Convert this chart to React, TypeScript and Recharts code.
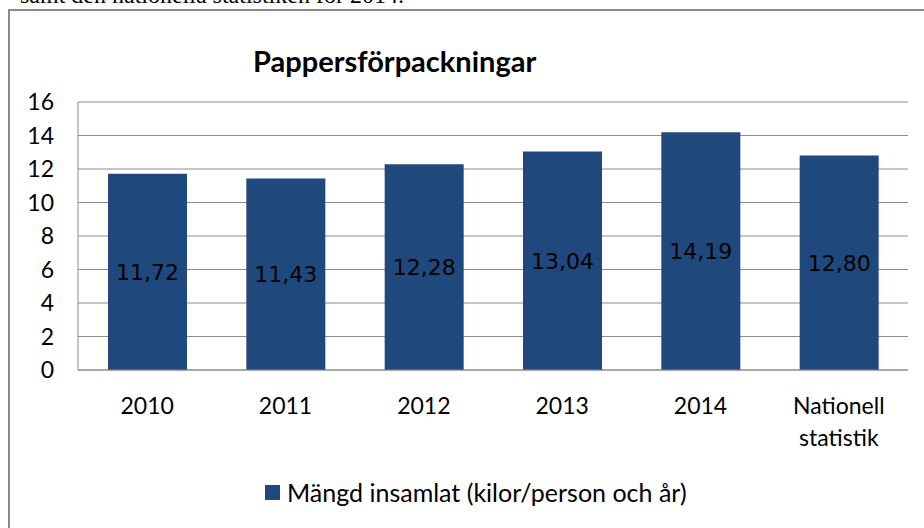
import React from "react";
import { BarChart, Bar, XAxis, YAxis, CartesianGrid, LabelList } from "recharts";

const categories = ["2010", "2011", "2012", "2013", "2014", "Nationell statistik"];
const amounts = [11.72, 11.43, 12.28, 13.04, 14.19, 12.8];
const yTicks = [0, 2, 4, 6, 8, 10, 12, 14, 16];
const seriesName = "Mängd insamlat (kilor/person och år)";

const data = categories.map((c, i) => ({ kategori: c, mangd: amounts[i] }));

const BAR_COLOR = "#1f497d";
const FONT = "Lato, 'Open Sans', sans-serif";

function CategoryTick(props: any) {
  const { x, y, payload } = props;
  const lines: string[] = String(payload.value).split(" ");
  return (
    <g transform={`translate(${x},${y})`}>
      <text textAnchor="middle" fill="#000" fontFamily={FONT} fontSize={23}>
        {lines.map((ln, i) => (
          <tspan key={i} x={0} dy={i === 0 ? 36 : 32}>
            {ln}
          </tspan>
        ))}
      </text>
    </g>
  );
}

export default function App() {
  return (
    <div style={{ position: "fixed", left: 0, top: 0, width: 924, height: 528, background: "#fff", overflow: "hidden" }}>
      <div
        style={{
          position: "absolute",
          left: 20,
          top: -17,
          fontFamily: "'Liberation Serif', serif",
          fontSize: 24,
          lineHeight: "24px",
          whiteSpace: "nowrap",
        }}
      >
        samt den nationella statistiken för 2014.
      </div>
      <div
        style={{
          position: "absolute",
          left: 8,
          top: 9,
          width: 940,
          height: 540,
          border: "2px solid #8a8a8a",
        }}
      />
      <div
        style={{
          position: "absolute",
          left: 253,
          top: 43,
          fontFamily: FONT,
          fontWeight: 700,
          fontSize: 29,
          whiteSpace: "nowrap",
        }}
      >
        Pappersförpackningar
      </div>
      <div style={{ position: "absolute", left: 0, top: 0 }}>
        <BarChart
          width={924}
          height={528}
          data={data}
          margin={{ top: 102, right: 16, bottom: 88, left: 0 }}
        >
          <CartesianGrid vertical={false} stroke="#8c8c8c" strokeWidth={1} />
          <XAxis
            dataKey="kategori"
            axisLine={{ stroke: "#8c8c8c" }}
            tickLine={false}
            interval={0}
            height={70}
            tick={<CategoryTick />}
          />
          <YAxis
            width={78}
            domain={[0, 16]}
            ticks={yTicks}
            interval={0}
            axisLine={{ stroke: "#8c8c8c" }}
            tickLine={false}
            tickSize={8}
            tickMargin={16}
            tick={{ fill: "#000", fontFamily: FONT, fontSize: 23 }}
          />
          <Bar dataKey="mangd" name={seriesName} fill={BAR_COLOR} barSize={79} isAnimationActive={false}>
            <LabelList
              dataKey="mangd"
              position="center"
              fill="#000"
              fontFamily="'DejaVu Sans', sans-serif"
              fontSize={22}
              formatter={(v: any) => Number(v).toFixed(2).replace(".", ",")}
            />
          </Bar>
        </BarChart>
      </div>
      <div
        style={{
          position: "absolute",
          left: 265,
          top: 477,
          display: "flex",
          alignItems: "center",
          fontFamily: FONT,
          fontSize: 25,
          color: "#000",
          whiteSpace: "nowrap",
        }}
      >
        <span style={{ display: "inline-block", width: 15, height: 15, background: BAR_COLOR, marginRight: 7 }} />
        <span>{seriesName}</span>
      </div>
    </div>
  );
}
